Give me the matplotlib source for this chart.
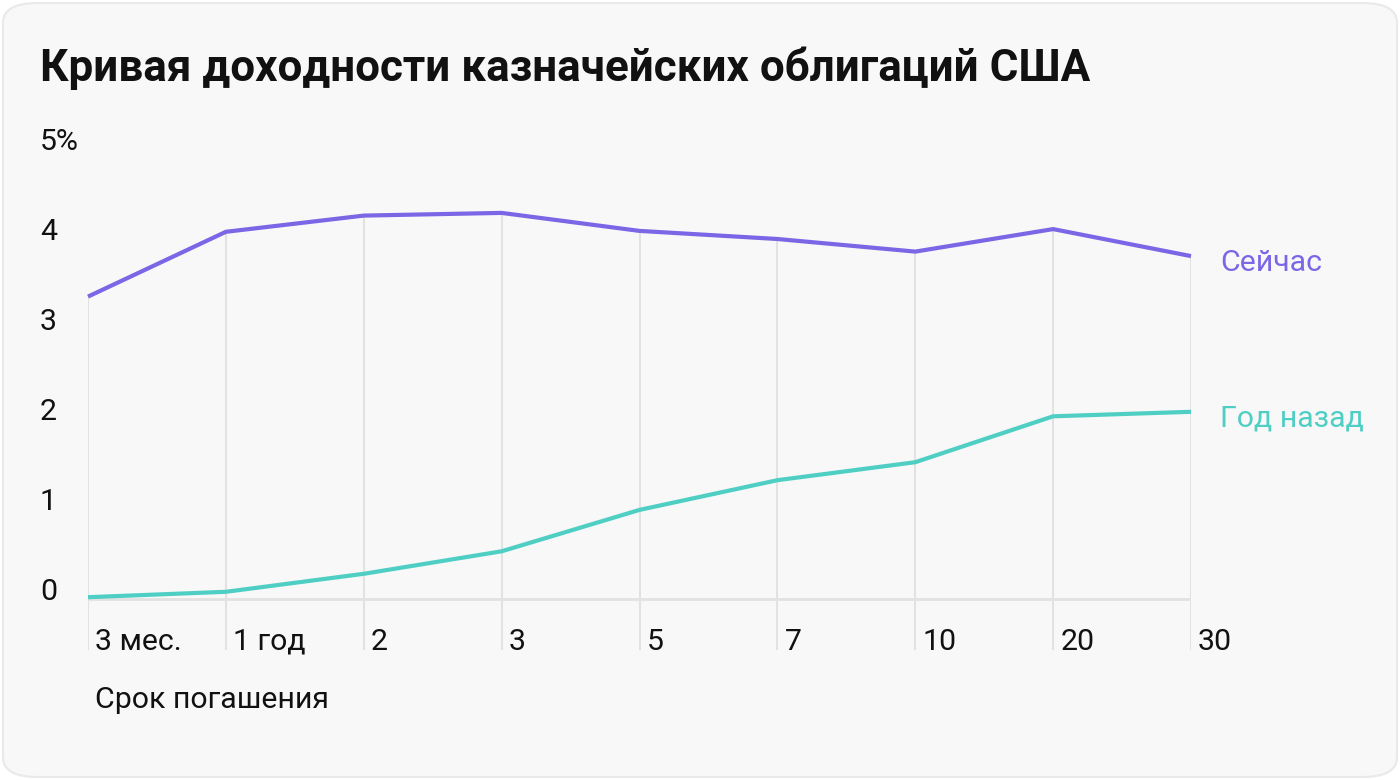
import matplotlib.pyplot as plt
from matplotlib.patches import FancyBboxPatch
from matplotlib.transforms import offset_copy, blended_transform_factory

plt.rcParams['font.family'] = ['Roboto', 'DejaVu Sans']

# Данные
maturities = ['3 мес.', '1 год', '2', '3', '5', '7', '10', '20', '30']
now_yield = [3.36, 4.08, 4.26, 4.29, 4.09, 4.00, 3.86, 4.11, 3.81]
year_ago_yield = [0.02, 0.08, 0.28, 0.53, 0.99, 1.32, 1.52, 2.03, 2.08]
y_ticks = [0, 1, 2, 3, 4, 5]
y_tick_labels = ['0', '1', '2', '3', '4', '5%']

C_NOW = '#7B66E6'
C_AGO = '#4FCFC4'
C_GRID = '#E2E2E2'
FS = 21.8

W, H = 1400, 780
fig = plt.figure(figsize=(W / 100, H / 100), dpi=100)
fig.patch.set_facecolor('white')

# фон карточки со скруглёнными углами
card = FancyBboxPatch((3 / W, 3 / H), (W - 6) / W, (H - 6) / H,
                      boxstyle='round,pad=0,rounding_size=0.025',
                      transform=fig.transFigure, facecolor='#F8F8F8',
                      edgecolor='#E9E9E9', linewidth=1.5, zorder=-10)
fig.patches.append(card)

# оси: x 88..1191 px, y: значение v -> 599 - 90*v px
y_lo, y_hi = -0.6, 5.0
ax = fig.add_axes([88 / W, 1 - (599 + 90 * 0.6) / H, (1191 - 88) / W, 90 * (y_hi - y_lo) / H])
ax.set_xlim(0, len(maturities) - 1)
ax.set_ylim(y_lo, y_hi)
ax.axis('off')

x = list(range(len(maturities)))

# сетка
ax.vlines(x, -0.57, now_yield, color=C_GRID, linewidth=1.5, zorder=1)
ax.hlines(0, x[0], x[-1], color=C_GRID, linewidth=2, zorder=1)

# линии
ax.plot(x, now_yield, color=C_NOW, linewidth=3, solid_capstyle='butt', clip_on=False, zorder=3)
ax.plot(x, year_ago_yield, color=C_AGO, linewidth=3, solid_capstyle='butt', clip_on=False, zorder=3)

# подписи серий
lab = offset_copy(ax.transData, fig=fig, x=29, y=-7, units='dots')
ax.text(x[-1], now_yield[-1], 'Сейчас', color=C_NOW, fontsize=FS, va='center', ha='left', transform=lab)
ax.text(x[-1], year_ago_yield[-1], 'Год назад', color=C_AGO, fontsize=FS, va='center', ha='left', transform=lab)

# подписи оси X
xt = offset_copy(ax.transData, fig=fig, x=7, y=-2, units='dots')
for i, m in enumerate(maturities):
    ax.text(i, -0.45, m, fontsize=FS, color='#111111', ha='left', va='center', transform=xt)

# подписи оси Y
ytr = blended_transform_factory(fig.transFigure, ax.transData)
for v, t in zip(y_ticks, y_tick_labels):
    ax.text(40 / W, v + 0.08, t, fontsize=FS, color='#111111', ha='left', va='center', transform=ytr)

fig.text(40 / W, 1 - 68 / H, 'Кривая доходности казначейских облигаций США',
         fontsize=31.7, fontweight='bold', color='#111111', ha='left', va='center')
fig.text(95 / W, 1 - 700 / H, 'Срок погашения', fontsize=FS, color='#111111', ha='left', va='center')

fig.savefig('out.png', dpi=100, facecolor=fig.get_facecolor())
